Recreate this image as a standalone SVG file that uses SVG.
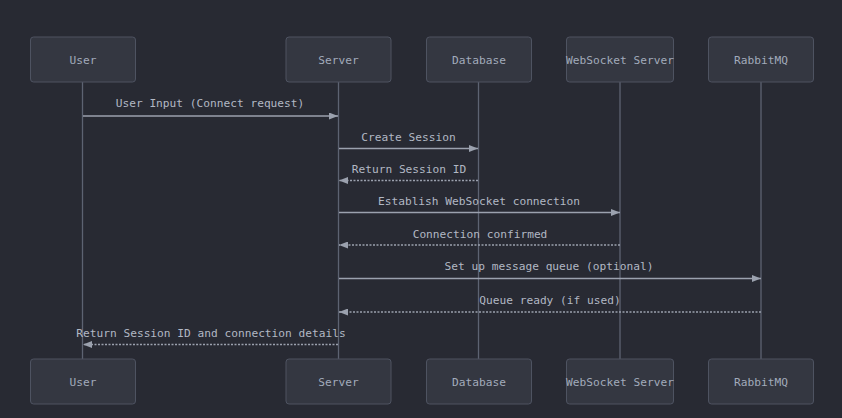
<svg xmlns="http://www.w3.org/2000/svg" width="842" height="418" viewBox="0 0 842 418">
<defs>
<style>
.bg{fill:#282a33}
.box{fill:#343741;stroke:#4e5361;stroke-width:1}
.lbl{font-family:"DejaVu Sans Mono","Liberation Mono",monospace;font-size:11.2px;fill:#a2abbb;text-anchor:middle;dominant-baseline:central}
.msg{font-family:"DejaVu Sans Mono","Liberation Mono",monospace;font-size:11.2px;fill:#b2b8c4;text-anchor:middle;dominant-baseline:central}
.life{stroke:#5d6372;stroke-width:1.3}
.solid{stroke:#9ba1ae;stroke-width:1.3;fill:none;marker-end:url(#arr)}
.dash{stroke:#9ba1ae;stroke-width:1.3;fill:none;stroke-dasharray:2,1.5;marker-end:url(#arr)}
</style>
<marker id="arr" markerUnits="userSpaceOnUse" markerWidth="9" markerHeight="7" refX="9" refY="3.5" orient="auto">
<path d="M0,0 L9,3.5 L0,7 z" fill="#9ba1ae"/>
</marker>
</defs>
<rect class="bg" x="0" y="0" width="842" height="418"/>

<g id="lifelines">
<line class="life" x1="82.5" y1="82" x2="82.5" y2="359"/>
<line class="life" x1="338.5" y1="82" x2="338.5" y2="359"/>
<line class="life" x1="478.5" y1="82" x2="478.5" y2="359"/>
<line class="life" x1="620" y1="82" x2="620" y2="359"/>
<line class="life" x1="761" y1="82" x2="761" y2="359"/>
</g>

<g id="connectors">
<line class="solid" x1="83" y1="116" x2="338" y2="116"/>
<text class="msg" x="210" y="103">User Input (Connect request)</text>
<line class="solid" x1="339" y1="148.5" x2="478" y2="148.5"/>
<text class="msg" x="408.5" y="137">Create Session</text>
<line class="dash" x1="478" y1="180.5" x2="339" y2="180.5"/>
<text class="msg" x="409" y="169">Return Session ID</text>
<line class="solid" x1="339" y1="212.5" x2="620" y2="212.5"/>
<text class="msg" x="479" y="201">Establish WebSocket connection</text>
<line class="dash" x1="620" y1="245" x2="339" y2="245"/>
<text class="msg" x="480" y="234">Connection confirmed</text>
<line class="solid" x1="339" y1="278.5" x2="761" y2="278.5"/>
<text class="msg" x="549" y="266.5">Set up message queue (optional)</text>
<line class="dash" x1="761" y1="312" x2="339" y2="312"/>
<text class="msg" x="550" y="300">Queue ready (if used)</text>
<line class="dash" x1="338" y1="344.5" x2="83" y2="344.5"/>
<text class="msg" x="211" y="333">Return Session ID and connection details</text>
</g>

<g id="user-top"><rect class="box" x="30.5" y="37" width="105" height="45" rx="3"/><text class="lbl" x="83" y="60">User</text></g>
<g id="server-top"><rect class="box" x="286" y="37" width="105" height="45" rx="3"/><text class="lbl" x="338.5" y="60">Server</text></g>
<g id="database-top"><rect class="box" x="426.5" y="37" width="105" height="45" rx="3"/><text class="lbl" x="479" y="60">Database</text></g>
<g id="websocket-top"><rect class="box" x="566.5" y="37" width="107" height="45" rx="3"/><text class="lbl" x="620" y="60">WebSocket Server</text></g>
<g id="rabbitmq-top"><rect class="box" x="708.5" y="37" width="105" height="45" rx="3"/><text class="lbl" x="761" y="60">RabbitMQ</text></g>

<g id="user-bottom"><rect class="box" x="30.5" y="359" width="105" height="45" rx="3"/><text class="lbl" x="83" y="382">User</text></g>
<g id="server-bottom"><rect class="box" x="286" y="359" width="105" height="45" rx="3"/><text class="lbl" x="338.5" y="382">Server</text></g>
<g id="database-bottom"><rect class="box" x="426.5" y="359" width="105" height="45" rx="3"/><text class="lbl" x="479" y="382">Database</text></g>
<g id="websocket-bottom"><rect class="box" x="566.5" y="359" width="107" height="45" rx="3"/><text class="lbl" x="620" y="382">WebSocket Server</text></g>
<g id="rabbitmq-bottom"><rect class="box" x="708.5" y="359" width="105" height="45" rx="3"/><text class="lbl" x="761" y="382">RabbitMQ</text></g>
</svg>
